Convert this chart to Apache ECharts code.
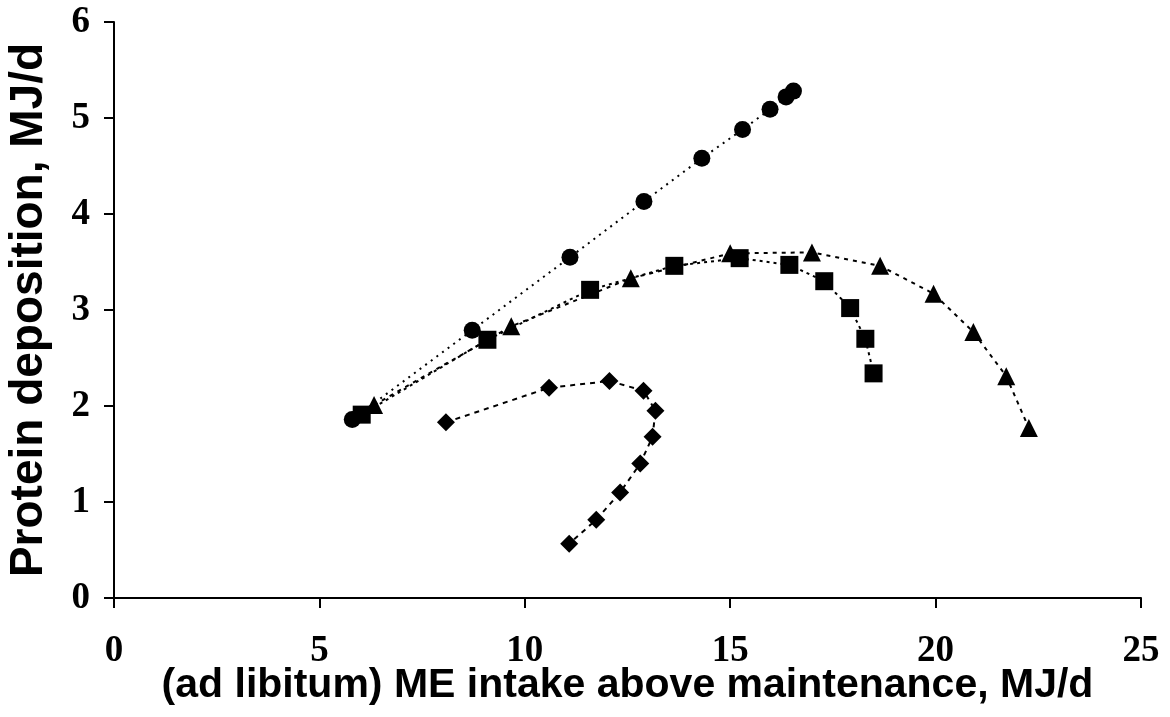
<!DOCTYPE html>
<html>
<head>
<meta charset="utf-8">
<script src="https://cdn.jsdelivr.net/npm/echarts@6/dist/echarts.min.js"></script>
<style>
html,body{margin:0;padding:0;background:#fff;}
#chart{width:1170px;height:717px;}
</style>
</head>
<body>
<div id="chart"></div>
<script>
// Data
var circleX  = [5.80, 8.72, 11.10, 12.90, 14.31, 15.30, 15.97, 16.36, 16.54];
var circleY  = [1.86, 2.79, 3.55, 4.13, 4.58, 4.88, 5.09, 5.22, 5.28];
var squareX  = [6.03, 9.09, 11.59, 13.64, 15.23, 16.44, 17.29, 17.92, 18.29, 18.49];
var squareY  = [1.91, 2.69, 3.21, 3.46, 3.54, 3.47, 3.30, 3.02, 2.70, 2.34];
var triX     = [6.33, 9.67, 12.58, 15.00, 16.99, 18.65, 19.95, 20.92, 21.72, 22.27];
var triY     = [2.01, 2.83, 3.33, 3.59, 3.60, 3.46, 3.17, 2.77, 2.31, 1.77];
var diamondX = [8.08, 10.59, 12.06, 12.89, 13.18, 13.11, 12.81, 12.32, 11.74, 11.08];
var diamondY = [1.83, 2.19, 2.26, 2.16, 1.95, 1.68, 1.40, 1.10, 0.815, 0.565];

var xTicks = [0, 5, 10, 15, 20, 25];
var yTicks = [0, 1, 2, 3, 4, 5, 6];

function pairs(xs, ys) { return xs.map(function (x, i) { return [x, ys[i]]; }); }

function makeSeries(name, xs, ys, symbol, size, dash) {
  return {
    name: name,
    type: 'line',
    data: pairs(xs, ys),
    symbol: symbol,
    symbolSize: size,
    showSymbol: true,
    itemStyle: { color: '#000' },
    lineStyle: { color: '#000', width: 2, type: dash },
    z: 3,
    animation: false
  };
}

var chart = echarts.init(document.getElementById('chart'), null, { renderer: 'canvas' });
chart.setOption({
  backgroundColor: '#fff',
  animation: false,
  grid: { left: 114, right: 29, top: 22, bottom: 119, containLabel: false, outerBoundsMode: 'none' },
  xAxis: {
    type: 'value',
    min: 0, max: 25, interval: 5,
    name: '(ad libitum) ME intake above maintenance, MJ/d',
    nameLocation: 'middle',
    nameGap: 67,
    nameMoveOverlap: false,
    nameTextStyle: { fontFamily: 'Liberation Sans', fontWeight: 'bold', fontSize: 41, color: '#000' },
    axisLine: { show: true, onZero: false, lineStyle: { color: '#000', width: 2 } },
    axisTick: { show: true, inside: false, length: 10, lineStyle: { color: '#000', width: 2 } },
    axisLabel: {
      margin: 35, color: '#000', fontFamily: 'Liberation Serif', fontWeight: 'bold', fontSize: 37,
      formatter: function (v) { return xTicks.indexOf(v) >= 0 ? String(v) : ''; }
    },
    splitLine: { show: false }
  },
  yAxis: {
    type: 'value',
    min: 0, max: 6, interval: 1,
    name: 'Protein deposition, MJ/d',
    nameLocation: 'middle',
    nameGap: 62,
    nameMoveOverlap: false,
    nameRotate: 90,
    nameTextStyle: { fontFamily: 'Liberation Sans', fontWeight: 'bold', fontSize: 46, color: '#000' },
    axisLine: { show: true, onZero: false, lineStyle: { color: '#000', width: 2 } },
    axisTick: { show: true, inside: false, length: 10, lineStyle: { color: '#000', width: 2 } },
    axisLabel: {
      margin: 24, color: '#000', fontFamily: 'Liberation Serif', fontWeight: 'bold', fontSize: 37,
      formatter: function (v) { return yTicks.indexOf(v) >= 0 ? String(v) : ''; }
    },
    splitLine: { show: false }
  },
  series: [
    makeSeries('circle', circleX, circleY, 'circle', 17, [2, 5]),
    makeSeries('square', squareX, squareY, 'rect', 18, [3, 4]),
    makeSeries('triangle', triX, triY, 'triangle', 18, [4, 5]),
    makeSeries('diamond', diamondX, diamondY, 'diamond', 18, [5, 5])
  ]
});
</script>
</body>
</html>
